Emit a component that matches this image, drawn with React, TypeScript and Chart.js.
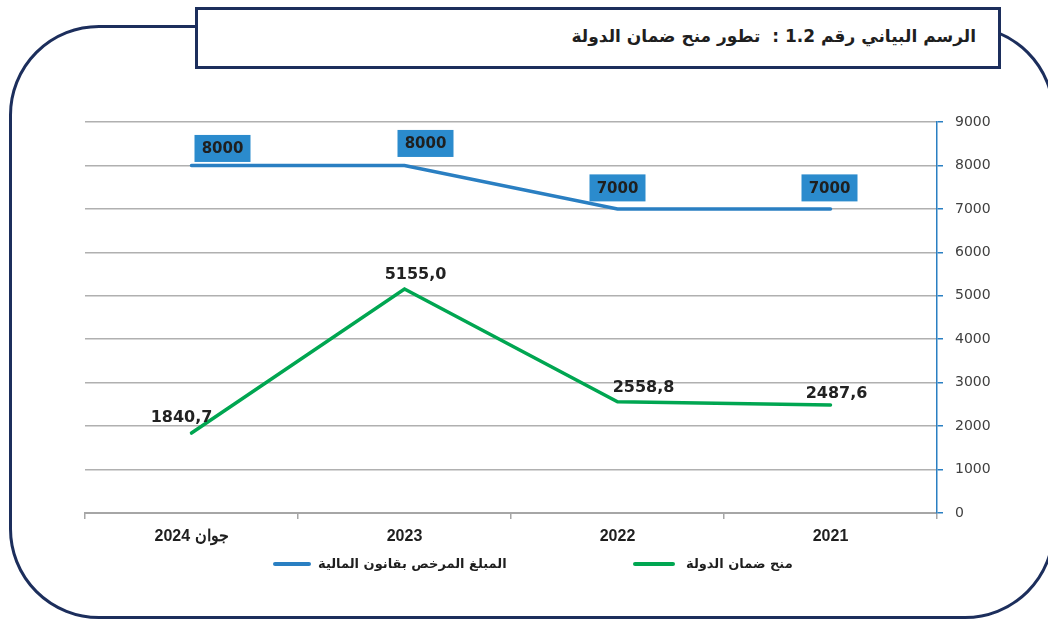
import React, { useEffect, useRef } from "react";
import { Chart, registerables } from "chart.js";

Chart.register(...registerables);

const categories = ["2021", "2022", "2023", "جوان 2024"];
const authorizedAmount = [7000, 7000, 8000, 8000];
const stateGuarantees = [2487.6, 2558.8, 5155.0, 1840.7];
const yTicks = [0, 1000, 2000, 3000, 4000, 5000, 6000, 7000, 8000, 9000];

const seriesNames = ["المبلغ المرخص بقانون المالية", "منح ضمان الدولة"];
const titleText = "الرسم البياني رقم 1.2 :  تطور منح ضمان الدولة";

const BLUE = "#2a7fc2";
const BOX_BLUE = "#2b8bcd";
const GREEN = "#00a651";
const NAVY = "#1c2e5c";

// label placement (style): [dx, dy] of label centre relative to each point
const blueLabelShift = [[-1, -21], [0, -21], [21, -22], [31, -17]];
const greenLabelShift = [[6, -11], [26, -14], [11, -14], [-10, -15]];

const labelPlugin = {
  id: "valueLabels",
  afterDatasetsDraw(chart: any) {
    const ctx = chart.ctx;
    ctx.save();
    ctx.textAlign = "center";
    ctx.textBaseline = "middle";
    const m0 = chart.getDatasetMeta(0);
    m0.data.forEach((pt: any, i: number) => {
      const [dx, dy] = blueLabelShift[i];
      const cx = pt.x + dx;
      const cy = pt.y + dy;
      ctx.fillStyle = BOX_BLUE;
      ctx.fillRect(cx - 28, cy - 13.5, 56, 27);
      ctx.fillStyle = "#1f1f1f";
      ctx.font = "bold 15px 'DejaVu Sans'";
      ctx.fillText(String(authorizedAmount[i]), cx, cy + 1);
    });
    const m1 = chart.getDatasetMeta(1);
    m1.data.forEach((pt: any, i: number) => {
      const [dx, dy] = greenLabelShift[i];
      ctx.fillStyle = "#222222";
      ctx.font = "bold 16px 'DejaVu Sans'";
      ctx.fillText(stateGuarantees[i].toFixed(1).replace(".", ","), pt.x + dx, pt.y + dy);
    });
    ctx.restore();
  },
};

export default function App() {
  const ref = useRef<HTMLCanvasElement>(null);

  useEffect(() => {
    if (!ref.current) return;
    const chart = new Chart(ref.current, {
      type: "line",
      data: {
        labels: categories,
        datasets: [
          {
            label: seriesNames[0],
            data: authorizedAmount,
            borderColor: BLUE,
            backgroundColor: BLUE,
            borderWidth: 3.5,
            pointRadius: 0,
            borderCapStyle: "round",
            tension: 0,
          },
          {
            label: seriesNames[1],
            data: stateGuarantees,
            borderColor: GREEN,
            backgroundColor: GREEN,
            borderWidth: 3.5,
            pointRadius: 0,
            borderCapStyle: "round",
            tension: 0,
          },
        ],
      },
      options: {
        animation: false,
        responsive: true,
        maintainAspectRatio: false,
        layout: { padding: { left: 85, top: 122, right: 51, bottom: 67 } },
        plugins: {
          legend: { display: false },
          tooltip: { enabled: false },
        },
        scales: {
          x: {
            reverse: true,
            offset: true,
            afterFit: (s: any) => {
              s.height = 40;
            },
            grid: {
              offset: true,
              drawOnChartArea: false,
              drawTicks: true,
              tickLength: 6,
              color: "#a6a6a6",
              lineWidth: 1.5,
            },
            border: { color: "#a6a6a6", width: 2 },
            ticks: {
              color: "#1f1f1f",
              padding: 8,
              font: { family: "'Liberation Sans'", size: 16, weight: "bold" },
            },
          },
          y: {
            position: "right",
            min: 0,
            max: 9000,
            afterFit: (s: any) => {
              s.width = 60;
            },
            afterBuildTicks: (s: any) => {
              s.ticks = yTicks.map((v) => ({ value: v }));
            },
            grid: {
              color: "#b0b0b0",
              lineWidth: 1.5,
              tickColor: BLUE,
              tickLength: 6,
            },
            border: { color: BLUE, width: 1.5 },
            ticks: {
              color: "#404040",
              padding: 12,
              font: { family: "'DejaVu Sans'", size: 14 },
              callback: (v: any) => String(v),
            },
          },
        },
      },
      plugins: [labelPlugin],
    });
    return () => chart.destroy();
  }, []);

  const legendText: React.CSSProperties = {
    fontFamily: "'DejaVu Sans', sans-serif",
    fontWeight: "bold",
    fontSize: 13,
    color: "#1f1f1f",
    direction: "rtl",
    whiteSpace: "nowrap",
  };

  return (
    <div
      style={{
        position: "absolute",
        left: 0,
        top: 0,
        width: 1048,
        height: 620,
        overflow: "hidden",
        background: "#ffffff",
      }}
    >
      <div
        style={{
          position: "absolute",
          left: 9,
          top: 25,
          width: 1046,
          height: 594,
          border: `3px solid ${NAVY}`,
          borderRadius: 90,
          boxSizing: "border-box",
        }}
      />
      <div
        style={{
          position: "absolute",
          left: 195,
          top: 7,
          width: 806,
          height: 62,
          border: `3px solid ${NAVY}`,
          background: "#ffffff",
          boxSizing: "border-box",
          display: "flex",
          alignItems: "center",
          justifyContent: "flex-start",
          direction: "rtl",
          paddingRight: 22,
          paddingBottom: 4,
          fontFamily: "'DejaVu Sans', serif",
          fontWeight: "bold",
          fontSize: 17,
          color: "#1f1f1f",
          whiteSpace: "pre",
        }}
      >
        {titleText}
      </div>
      <div style={{ position: "absolute", left: 0, top: 0, width: 1048, height: 620 }}>
        <canvas ref={ref} />
      </div>
      <div
        style={{
          position: "absolute",
          left: 273,
          top: 556,
          display: "flex",
          alignItems: "center",
          direction: "ltr",
        }}
      >
        <div style={{ width: 38, height: 4, borderRadius: 2, background: BLUE, marginRight: 7 }} />
        <div style={legendText}>{seriesNames[0]}</div>
      </div>
      <div
        style={{
          position: "absolute",
          left: 633,
          top: 556,
          display: "flex",
          alignItems: "center",
          direction: "ltr",
        }}
      >
        <div style={{ width: 42, height: 4, borderRadius: 2, background: GREEN, marginRight: 11 }} />
        <div style={legendText}>{seriesNames[1]}</div>
      </div>
    </div>
  );
}
